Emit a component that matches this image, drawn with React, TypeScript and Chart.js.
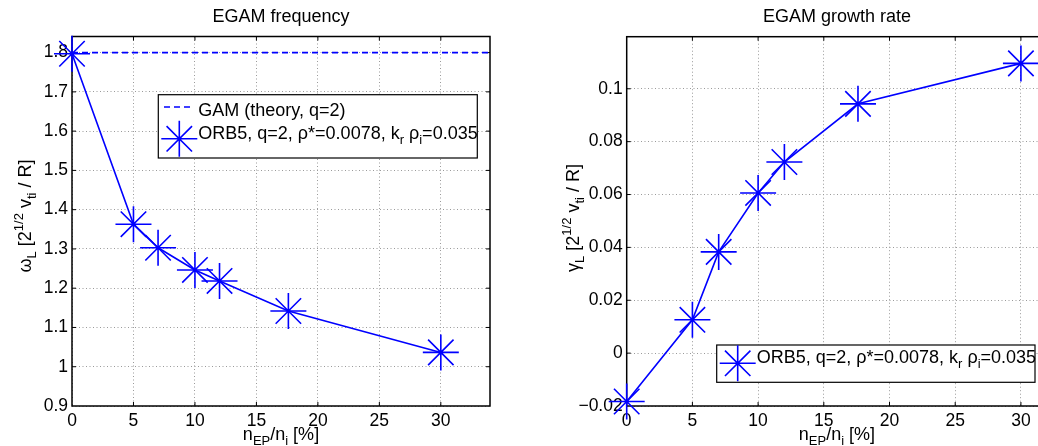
import React, { useEffect, useRef } from "react";
import { Chart, registerables } from "chart.js";

Chart.register(...registerables);

// ---------------- data ----------------
const nEP = [0, 5, 7, 10, 12, 17.6, 30];
const omegaL = [1.797, 1.363, 1.303, 1.2465, 1.2185, 1.142, 1.0365];
const gammaL = [-0.0183, 0.0126, 0.0383, 0.0606, 0.0723, 0.0943, 0.1096];
const gamTheory = 1.8;
const gamTheoryX = [0, 34];

const xTicks = [0, 5, 10, 15, 20, 25, 30];
const xTickLabels = ["0", "5", "10", "15", "20", "25", "30"];
const freqTicks = [0.9, 1.0, 1.1, 1.2, 1.3, 1.4, 1.5, 1.6, 1.7, 1.8];
const freqTickLabels = ["0.9", "1", "1.1", "1.2", "1.3", "1.4", "1.5", "1.6", "1.7", "1.8"];
const rateTicks = [-0.02, 0, 0.02, 0.04, 0.06, 0.08, 0.1];
const rateTickLabels = ["\u22120.02", "0", "0.02", "0.04", "0.06", "0.08", "0.1"];

const titleFreq = "EGAM frequency";
const titleRate = "EGAM growth rate";
const legendGam = "GAM (theory, q=2)";

// ---------------- drawing helpers ----------------
const FONT = "'Liberation Sans', Arial, Helvetica, sans-serif";
const BLUE = "#0000ff";

type Seg = { t: string; s?: number; dy?: number };

const orbLegend: Seg[] = [
  { t: "ORB5, q=2, \u03c1*=0.0078, k" },
  { t: "r", s: 13, dy: 5 },
  { t: " \u03c1" },
  { t: "i", s: 13, dy: 5 },
  { t: "=0.035" },
];
const xLabelSegs: Seg[] = [
  { t: "n" },
  { t: "EP", s: 13, dy: 5 },
  { t: "/n" },
  { t: "i", s: 13, dy: 5 },
  { t: " [%]" },
];
const yUnit: Seg[] = [
  { t: " [2" },
  { t: "1/2", s: 13, dy: -8 },
  { t: " v" },
  { t: "ti", s: 13, dy: 5 },
  { t: " / R]" },
];
const yLabelFreq: Seg[] = [{ t: "\u03c9" }, { t: "L", s: 13, dy: 5 }, ...yUnit];
const yLabelRate: Seg[] = [{ t: "\u03b3" }, { t: "L", s: 13, dy: 5 }, ...yUnit];

function segFont(s: number) {
  return `${s}px ${FONT}`;
}
function richWidth(ctx: CanvasRenderingContext2D, segs: Seg[], base: number) {
  let w = 0;
  for (const g of segs) {
    ctx.font = segFont(g.s ?? base);
    w += ctx.measureText(g.t).width;
  }
  return w;
}
function drawRich(
  ctx: CanvasRenderingContext2D,
  segs: Seg[],
  x: number,
  y: number,
  base: number,
  align: "left" | "center"
) {
  let cx = align === "center" ? x - richWidth(ctx, segs, base) / 2 : x;
  ctx.textAlign = "left";
  ctx.textBaseline = "alphabetic";
  ctx.fillStyle = "#000";
  for (const g of segs) {
    ctx.font = segFont(g.s ?? base);
    ctx.fillText(g.t, cx, y + (g.dy ?? 0));
    cx += ctx.measureText(g.t).width;
  }
}
function drawStar(ctx: CanvasRenderingContext2D, x: number, y: number, r: number) {
  const d = r * Math.SQRT1_2;
  ctx.beginPath();
  ctx.moveTo(x - r, y);
  ctx.lineTo(x + r, y);
  ctx.moveTo(x, y - r);
  ctx.lineTo(x, y + r);
  ctx.moveTo(x - d, y - d);
  ctx.lineTo(x + d, y + d);
  ctx.moveTo(x - d, y + d);
  ctx.lineTo(x + d, y - d);
  ctx.stroke();
}

type LegendRow =
  | { kind: "dash"; x1: number; x2: number; y: number; tx: number; ty: number; segs: Seg[] }
  | { kind: "star"; sx: number; sy: number; r: number; tx: number; ty: number; segs: Seg[] };

interface Deco {
  title: string;
  titleY: number;
  xLabelY: number;
  yLabel: Seg[];
  yLabelX: number;
  yLabelCY: number;
  yTicks: number[];
  legendBox: [number, number, number, number];
  legendRows: LegendRow[];
}

function decoPlugin(d: Deco) {
  return {
    id: "deco",
    beforeDatasetsDraw(chart: any) {
      const { ctx, chartArea: a, scales } = chart;
      ctx.save();
      ctx.strokeStyle = "#000";
      ctx.lineWidth = 1;
      const T = 4;
      ctx.beginPath();
      for (const v of xTicks) {
        const px = scales.x.getPixelForValue(v);
        if (px <= a.left + 1 || px >= a.right - 1) continue;
        ctx.moveTo(px, a.bottom);
        ctx.lineTo(px, a.bottom - T);
        ctx.moveTo(px, a.top);
        ctx.lineTo(px, a.top + T);
      }
      for (const v of d.yTicks) {
        const py = scales.y.getPixelForValue(v);
        if (py <= a.top + 1 || py >= a.bottom - 1) continue;
        ctx.moveTo(a.left, py);
        ctx.lineTo(a.left + T, py);
        ctx.moveTo(a.right, py);
        ctx.lineTo(a.right - T, py);
      }
      ctx.stroke();
      ctx.lineWidth = 1.5;
      ctx.strokeRect(a.left, a.top, a.right - a.left, a.bottom - a.top);
      ctx.restore();
    },
    afterDatasetsDraw(chart: any) {
      const ctx: CanvasRenderingContext2D = chart.ctx;
      ctx.save();
      const [bx, by, bw, bh] = d.legendBox;
      ctx.fillStyle = "#fff";
      ctx.fillRect(bx, by, bw, bh);
      ctx.strokeStyle = "#000";
      ctx.lineWidth = 1.2;
      ctx.strokeRect(bx, by, bw, bh);
      for (const row of d.legendRows) {
        ctx.strokeStyle = BLUE;
        ctx.lineWidth = 1.6;
        if (row.kind === "dash") {
          ctx.setLineDash([6, 4]);
          ctx.beginPath();
          ctx.moveTo(row.x1, row.y);
          ctx.lineTo(row.x2, row.y);
          ctx.stroke();
          ctx.setLineDash([]);
        } else {
          drawStar(ctx, row.sx, row.sy, row.r);
        }
        drawRich(ctx, row.segs, row.tx, row.ty, 18, "left");
      }
      ctx.restore();
    },
    afterDraw(chart: any) {
      const { ctx, chartArea: a } = chart;
      ctx.save();
      const cx = (a.left + a.right) / 2;
      ctx.fillStyle = "#000";
      ctx.font = segFont(18);
      ctx.textAlign = "center";
      ctx.textBaseline = "alphabetic";
      ctx.fillText(d.title, cx, d.titleY);
      drawRich(ctx, xLabelSegs, cx, d.xLabelY, 18, "center");
      ctx.translate(d.yLabelX, d.yLabelCY);
      ctx.rotate(-Math.PI / 2);
      drawRich(ctx, d.yLabel, 0, 0, 18, "center");
      ctx.restore();
    },
  };
}

function makeConfig(opts: {
  datasets: any[];
  xMax: number;
  yMin: number;
  yMax: number;
  yTicks: number[];
  yTickLabels: string[];
  yWidth: number;
  padding: { left: number; right: number; top: number; bottom: number };
  xHeight: number;
  deco: Deco;
}) {
  const tickFont = { family: FONT, size: 17.5 };
  return {
    type: "scatter" as const,
    data: { datasets: opts.datasets },
    options: {
      responsive: false,
      animation: false as const,
      events: [] as any[],
      layout: { padding: opts.padding },
      plugins: {
        legend: { display: false },
        title: { display: false },
        tooltip: { enabled: false },
      },
      scales: {
        x: {
          type: "linear" as const,
          min: 0,
          max: opts.xMax,
          afterBuildTicks: (s: any) => {
            s.ticks = xTicks.map((v) => ({ value: v }));
          },
          afterFit: (s: any) => {
            s.height = opts.xHeight;
          },
          ticks: {
            callback: (_v: any, i: number) => xTickLabels[i],
            font: tickFont,
            color: "#000",
            padding: 5,
            maxRotation: 0,
            autoSkip: false,
          },
          grid: { color: "#9a9a9a", lineWidth: 1, drawTicks: false },
          border: { display: false, dash: [1, 2.5] },
        },
        y: {
          type: "linear" as const,
          min: opts.yMin,
          max: opts.yMax,
          afterBuildTicks: (s: any) => {
            s.ticks = opts.yTicks.map((v) => ({ value: v }));
          },
          afterFit: (s: any) => {
            s.width = opts.yWidth;
          },
          ticks: {
            callback: (_v: any, i: number) => opts.yTickLabels[i],
            font: tickFont,
            color: "#000",
            padding: 4,
            autoSkip: false,
          },
          grid: { color: "#9a9a9a", lineWidth: 1, drawTicks: false },
          border: { display: false, dash: [1, 2.5] },
        },
      },
    },
    plugins: [decoPlugin(opts.deco)],
  };
}

const starSeries = (ys: number[]) => ({
  label: "ORB5",
  data: nEP.map((x, i) => ({ x, y: ys[i] })),
  showLine: true,
  borderColor: BLUE,
  backgroundColor: BLUE,
  borderWidth: 1.6,
  pointStyle: "star",
  pointRadius: 18,
  pointBorderWidth: 1.6,
  pointBorderColor: BLUE,
  clip: false,
});

export default function App() {
  const leftRef = useRef<HTMLCanvasElement>(null);
  const rightRef = useRef<HTMLCanvasElement>(null);

  useEffect(() => {
    const leftCfg = makeConfig({
      datasets: [
        starSeries(omegaL),
        {
          label: "GAM",
          data: gamTheoryX.map((x) => ({ x, y: gamTheory })),
          showLine: true,
          borderColor: BLUE,
          borderWidth: 1.6,
          borderDash: [6, 4],
          pointRadius: 0,
          clip: false,
        },
      ],
      xMax: 34,
      yMin: 0.9,
      yMax: 1.841,
      yTicks: freqTicks,
      yTickLabels: freqTickLabels,
      yWidth: 72,
      padding: { left: 0, right: 30, top: 36.5, bottom: 0 },
      xHeight: 40,
      deco: {
        title: titleFreq,
        titleY: 22,
        xLabelY: 439.5,
        yLabel: yLabelFreq,
        yLabelX: 30.7,
        yLabelCY: 216,
        yTicks: freqTicks,
        legendBox: [158.3, 94.7, 319, 63.3],
        legendRows: [
          { kind: "dash", x1: 164, x2: 194, y: 107, tx: 198.3, ty: 116, segs: [{ t: legendGam }] },
          { kind: "star", sx: 179.3, sy: 138.8, r: 18, tx: 198.3, ty: 139, segs: orbLegend },
        ],
      },
    });
    const rightCfg = makeConfig({
      datasets: [starSeries(gammaL)],
      xMax: 32,
      yMin: -0.02,
      yMax: 0.1197,
      yTicks: rateTicks,
      yTickLabels: rateTickLabels,
      yWidth: 86.7,
      padding: { left: 0, right: 32.8, top: 36.7, bottom: 0 },
      xHeight: 40,
      deco: {
        title: titleRate,
        titleY: 22,
        xLabelY: 439.5,
        yLabel: yLabelRate,
        yLabelX: 38.5,
        yLabelCY: 218,
        yTicks: rateTicks,
        legendBox: [176.7, 345, 318.3, 37.3],
        legendRows: [
          { kind: "star", sx: 197.7, sy: 363.3, r: 18, tx: 216.7, ty: 362.7, segs: orbLegend },
        ],
      },
    });
    const c1 = new Chart(leftRef.current as HTMLCanvasElement, leftCfg as any);
    const c2 = new Chart(rightRef.current as HTMLCanvasElement, rightCfg as any);
    return () => {
      c1.destroy();
      c2.destroy();
    };
  }, []);

  return (
    <div
      style={{
        position: "fixed",
        left: 0,
        top: 0,
        width: 1038,
        height: 446,
        overflow: "hidden",
        background: "#fff",
      }}
    >
      <canvas
        ref={leftRef}
        width={520}
        height={446}
        style={{ position: "absolute", left: 0, top: 0, width: 520, height: 446 }}
      />
      <canvas
        ref={rightRef}
        width={540}
        height={446}
        style={{ position: "absolute", left: 540, top: 0, width: 540, height: 446 }}
      />
    </div>
  );
}
